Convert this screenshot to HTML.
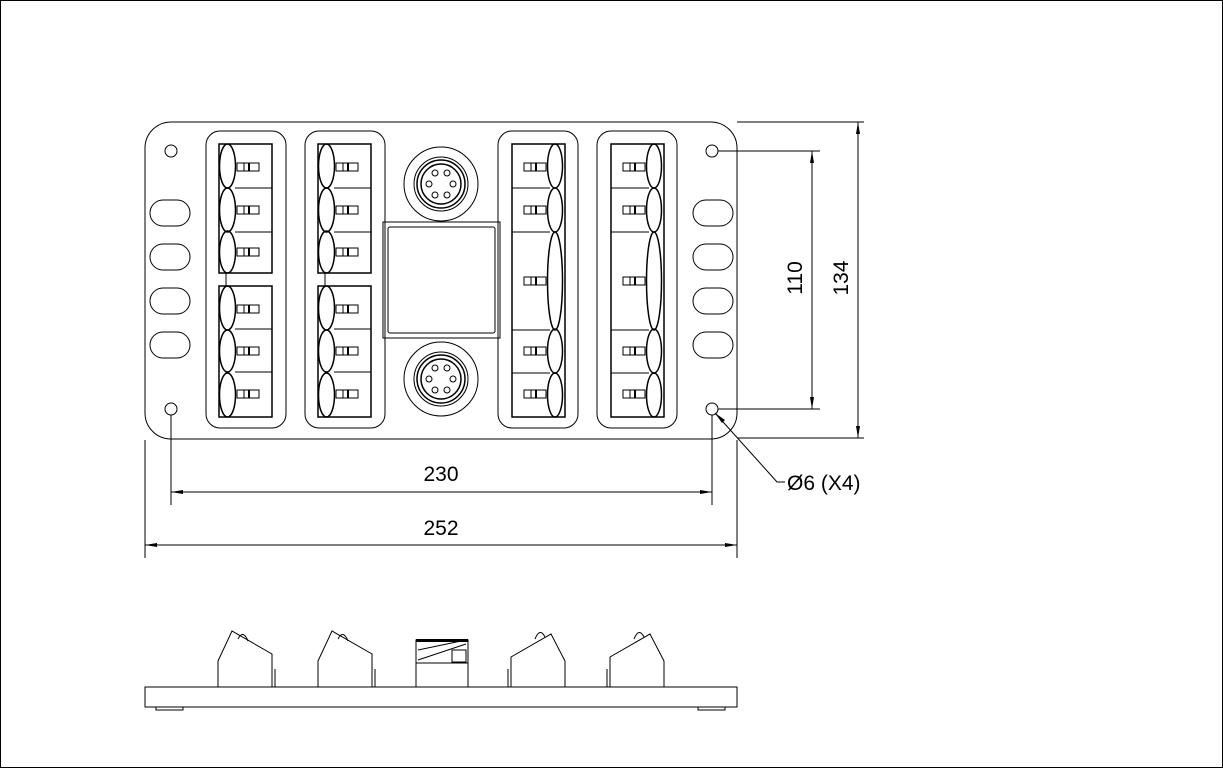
<!DOCTYPE html>
<html><head><meta charset="utf-8"><style>html,body{margin:0;padding:0;background:#fff}svg{display:block}</style></head><body>
<svg width="1223" height="768" viewBox="0 0 1223 768" xmlns="http://www.w3.org/2000/svg" font-family="Liberation Sans, Arial, sans-serif">
<defs>
<g id="pin"><rect x="0" y="-4" width="22" height="8" fill="none" stroke="#000"/><line x1="7" y1="-4" x2="7" y2="4" stroke="#000"/><line x1="12" y1="-4" x2="12" y2="4" stroke="#000" stroke-width="2"/></g>
<g id="blkL">
<rect x="0" y="0" width="80" height="297" rx="14" fill="none" stroke="#000"/>
<rect x="13" y="13" width="53" height="129" fill="none" stroke="#000" stroke-width="1.5"/>
<rect x="13" y="155" width="53" height="131" fill="none" stroke="#000" stroke-width="1.5"/>
<line x1="29" y1="57" x2="66" y2="57" stroke="#000"/><line x1="29" y1="101" x2="66" y2="101" stroke="#000"/>
<line x1="29" y1="198" x2="66" y2="198" stroke="#000"/><line x1="29" y1="241" x2="66" y2="241" stroke="#000"/>
<line x1="20" y1="142" x2="20" y2="155" stroke="#000"/>
<ellipse cx="21.5" cy="35" rx="8" ry="22" fill="none" stroke="#000" stroke-width="1.5"/>
<ellipse cx="21.5" cy="79" rx="8" ry="22" fill="none" stroke="#000" stroke-width="1.5"/>
<ellipse cx="21.5" cy="121" rx="8" ry="21" fill="none" stroke="#000" stroke-width="1.5"/>
<ellipse cx="21.5" cy="177" rx="8" ry="22" fill="none" stroke="#000" stroke-width="1.5"/>
<ellipse cx="21.5" cy="220" rx="8" ry="21" fill="none" stroke="#000" stroke-width="1.5"/>
<ellipse cx="21.5" cy="264" rx="8" ry="22" fill="none" stroke="#000" stroke-width="1.5"/>
<use href="#pin" x="31" y="36"/><use href="#pin" x="31" y="79"/><use href="#pin" x="31" y="121"/>
<use href="#pin" x="31" y="178"/><use href="#pin" x="31" y="220"/><use href="#pin" x="31" y="263"/>
</g>
<g id="blkR">
<rect x="0" y="0" width="80" height="297" rx="14" fill="none" stroke="#000"/>
<rect x="14" y="13" width="53" height="273" fill="none" stroke="#000" stroke-width="1.5"/>
<line x1="14" y1="57" x2="52" y2="57" stroke="#000"/><line x1="14" y1="101" x2="52" y2="101" stroke="#000"/>
<line x1="14" y1="199" x2="52" y2="199" stroke="#000"/><line x1="14" y1="242" x2="52" y2="242" stroke="#000"/>
<ellipse cx="57" cy="35" rx="7.5" ry="22" fill="none" stroke="#000" stroke-width="1.5"/>
<ellipse cx="57" cy="79" rx="7.5" ry="22" fill="none" stroke="#000" stroke-width="1.5"/>
<ellipse cx="57" cy="150" rx="7.5" ry="49" fill="none" stroke="#000" stroke-width="1.5"/>
<ellipse cx="57" cy="220" rx="7.5" ry="22" fill="none" stroke="#000" stroke-width="1.5"/>
<ellipse cx="57" cy="264" rx="7.5" ry="22" fill="none" stroke="#000" stroke-width="1.5"/>
<use href="#pin" x="26" y="36"/><use href="#pin" x="26" y="79"/><use href="#pin" x="26" y="150"/>
<use href="#pin" x="26" y="220"/><use href="#pin" x="26" y="263"/>
</g>
<g id="m12">
<circle r="37" fill="none" stroke="#000"/><circle r="27" fill="none" stroke="#000"/><circle r="24" fill="none" stroke="#000" stroke-width="1.5"/><circle r="20" fill="none" stroke="#000" stroke-width="1.5"/>
<circle cx="-6" cy="-11" r="3" fill="none" stroke="#000"/><circle cx="6" cy="-11" r="3" fill="none" stroke="#000"/>
<circle cx="-12" cy="0" r="3" fill="none" stroke="#000"/><circle cx="12" cy="0" r="3" fill="none" stroke="#000"/>
<circle cx="-6" cy="11" r="3" fill="none" stroke="#000"/><circle cx="6" cy="11" r="3" fill="none" stroke="#000"/>
</g>
<g id="sideA" fill="none" stroke="#000">
<path d="M0 53 V27 L14 -3 L54 20 V53"/><path d="M20 5 Q25 -5 30 7"/><line x1="57" y1="35" x2="57" y2="53"/>
</g>
</defs>
<rect x="0.5" y="0.5" width="1222" height="767" fill="none" stroke="#000"/>
<g fill="none" stroke="#000">
<rect x="145" y="122" width="592" height="317" rx="26"/>
<circle cx="171" cy="151" r="6"/><circle cx="712" cy="151" r="6"/><circle cx="171" cy="409" r="6"/><circle cx="712" cy="409" r="6"/>
<rect x="150" y="200" width="40" height="26" rx="13"/><rect x="150" y="244" width="40" height="26" rx="13"/><rect x="150" y="288" width="40" height="26" rx="13"/><rect x="150" y="332" width="40" height="26" rx="13"/>
<rect x="693" y="200" width="40" height="26" rx="13"/><rect x="693" y="244" width="40" height="26" rx="13"/><rect x="693" y="288" width="40" height="26" rx="13"/><rect x="693" y="332" width="40" height="26" rx="13"/>
<rect x="383" y="222" width="117" height="116"/><rect x="388" y="227" width="107" height="106" rx="2"/>
</g>
<use href="#blkL" x="206" y="131"/><use href="#blkL" x="305" y="131"/>
<use href="#blkR" x="498" y="131"/><use href="#blkR" x="597" y="131"/>
<use href="#m12" x="441" y="184"/><use href="#m12" x="441" y="379"/>
<g stroke="#000" fill="none">
<line x1="718" y1="151" x2="820" y2="151"/><line x1="718" y1="409" x2="820" y2="409"/>
<line x1="812" y1="151" x2="812" y2="409"/>
<line x1="737" y1="122" x2="864" y2="122"/><line x1="737" y1="438" x2="864" y2="438"/>
<line x1="858" y1="122" x2="858" y2="438"/>
<line x1="171" y1="415" x2="171" y2="505"/><line x1="712" y1="415" x2="712" y2="505"/>
<line x1="171" y1="492" x2="712" y2="492"/>
<line x1="145" y1="440" x2="145" y2="558"/><line x1="737" y1="440" x2="737" y2="558"/>
<line x1="145" y1="545" x2="737" y2="545"/>
<polyline points="715,413 777,482 785,482"/>
</g>
<g fill="#000">
<polygon points="812,151 810,163 814,163"/><polygon points="812,409 810,397 814,397"/>
<polygon points="858,122 856,134 860,134"/><polygon points="858,438 856,426 860,426"/>
<polygon points="171,492 183,490 183,494"/><polygon points="712,492 700,490 700,494"/>
<polygon points="145,545 157,543 157,547"/><polygon points="737,545 725,543 725,547"/>
<polygon points="715,413 722,423 725,420"/>
</g>
<g font-size="21" fill="#000">
<text x="441" y="481" text-anchor="middle">230</text>
<text x="441" y="535" text-anchor="middle">252</text>
<text x="787" y="490">Ø6 (X4)</text>
<text transform="translate(802,278) rotate(-90)" text-anchor="middle">110</text>
<text transform="translate(848,278) rotate(-90)" text-anchor="middle">134</text>
</g>
<g fill="none" stroke="#000">
<rect x="145" y="687" width="592" height="20"/>
<rect x="156" y="707" width="27" height="3"/><rect x="698" y="707" width="27" height="3"/>
<rect x="416" y="663" width="52" height="24"/>
<path d="M416 663 V640 H468 V663"/><path d="M418 660 L466 644 M418 650 L466 640 M452 650 h14 v12 h-14 z"/>
</g>
<rect x="416" y="639" width="52" height="3" fill="#000"/>
<use href="#sideA" x="218" y="634"/><use href="#sideA" x="318" y="634"/>
<g fill="none" stroke="#000">
<path d="M565 687 V661 L551 634 L511 657 V687"/><path d="M545 637 Q540 627 535 639"/><line x1="508" y1="669" x2="508" y2="687"/>
<path d="M664 687 V661 L650 634 L610 657 V687"/><path d="M644 637 Q639 627 634 639"/><line x1="607" y1="669" x2="607" y2="687"/>
</g>
</svg>
</body></html>
